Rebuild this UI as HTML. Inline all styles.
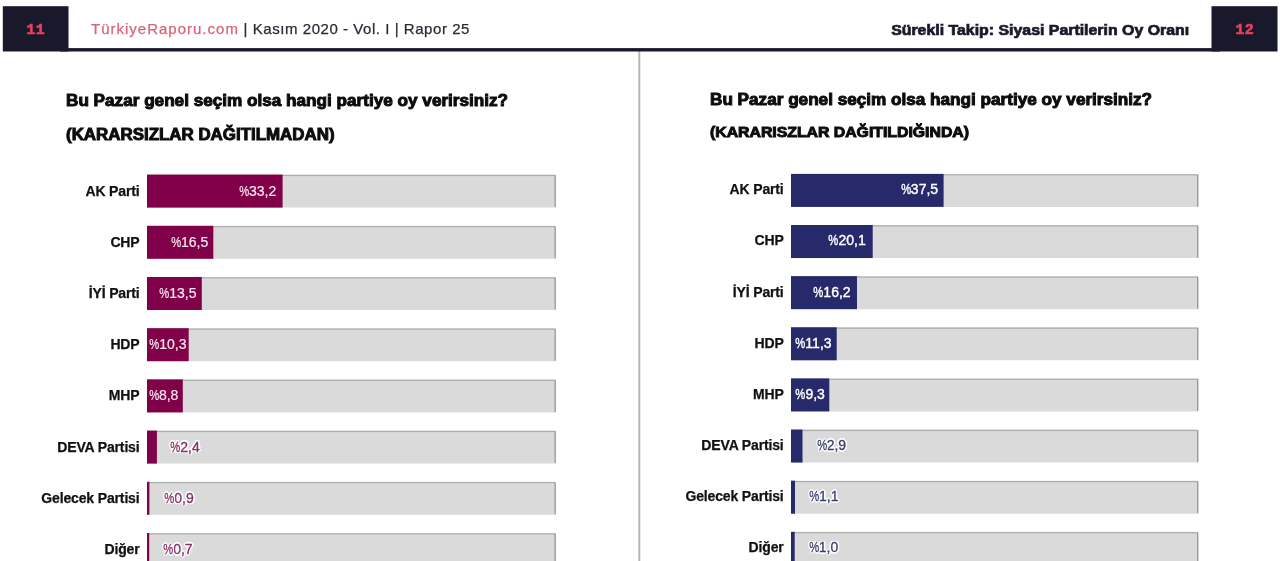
<!DOCTYPE html>
<html><head><meta charset="utf-8">
<style>
*{margin:0;padding:0;box-sizing:border-box}
html,body{width:1280px;height:561px;overflow:hidden;background:#fff;font-family:"Liberation Sans",sans-serif;}
.box{position:absolute;top:6px;height:45px;width:65px;color:#e8405c;font-family:"Liberation Mono",monospace;font-weight:bold;font-size:15px;letter-spacing:0.6px;text-align:center;line-height:45px;padding-top:2px;padding-left:0.6px;-webkit-text-stroke:0.6px #e8405c}
.hdrL{position:absolute;left:91px;top:20px;font-size:15px;letter-spacing:0.55px;line-height:18px;color:#2a2a35;white-space:nowrap;-webkit-text-stroke:0.25px;transform:translateY(0.4px)}
.hdrL span{color:#d9637a;letter-spacing:1px}
.hdrR{position:absolute;right:91px;top:20px;font-size:14.5px;letter-spacing:0;line-height:18px;font-weight:bold;color:#19192b;white-space:nowrap;-webkit-text-stroke:0.7px #19192b;transform-origin:100% 0;transform:translateY(0.5px) scaleX(1.095)}
.t1{position:absolute;font-weight:bold;font-size:16px;letter-spacing:0px;line-height:20px;color:#0c0c0c;white-space:nowrap;-webkit-text-stroke:0.95px #0c0c0c;transform-origin:0 0;transform:scaleX(1.0715)}
.t2{position:absolute;font-weight:bold;font-size:15.8px;letter-spacing:0px;line-height:20px;color:#0c0c0c;white-space:nowrap;-webkit-text-stroke:0.95px #0c0c0c;transform-origin:0 0;transform:scaleX(1.07)}
.t2.sm{font-size:14.5px;letter-spacing:0;transform:scaleX(1.09)}
.bars{position:absolute;left:0;top:0}
.row{position:absolute;left:0;top:0;width:1280px;height:33px}
.lab{position:absolute;left:0;top:0;line-height:33px;height:33px;font-weight:bold;font-size:14px;letter-spacing:-0.15px;color:#111;white-space:nowrap;text-align:right;-webkit-text-stroke:0.25px #111}
.val{position:absolute;top:0;width:60px;text-align:center;line-height:33px;font-size:14px;letter-spacing:0;color:#fff;white-space:nowrap}
.val i{font-style:normal;display:inline-block;transform:scaleX(0.8);margin:0 -1.35px}
.L .val{color:#f7e6ef;-webkit-text-stroke:0.2px #f7e6ef}
.L .val.o{color:#84306a;-webkit-text-stroke:0.3px #84306a;text-shadow:1.6px 0 0 #fff,-1.6px 0 0 #fff,0 1.6px 0 #fff,0 -1.6px 0 #fff,1.2px 1.2px 0 #fff,-1.2px 1.2px 0 #fff,1.2px -1.2px 0 #fff,-1.2px -1.2px 0 #fff,0 0 3px #fff,0 0 3px #fff}
.R .val{-webkit-text-stroke:0.4px #fff}
.R .val.o{color:#3a3e6a;-webkit-text-stroke:0.3px #3a3e6a;text-shadow:1.6px 0 0 #fff,-1.6px 0 0 #fff,0 1.6px 0 #fff,0 -1.6px 0 #fff,1.2px 1.2px 0 #fff,-1.2px 1.2px 0 #fff,1.2px -1.2px 0 #fff,-1.2px -1.2px 0 #fff,0 0 3px #fff,0 0 3px #fff}
#wrap{position:absolute;left:0;top:0;width:1280px;height:620px;filter:blur(0.4px)}

</style></head><body>
<div id="wrap">


<div class="hdrL"><span>TürkiyeRaporu.com</span> | Kasım 2020 - Vol. I | Rapor 25</div>
<div class="hdrR">Sürekli Takip: Siyasi Partilerin Oy Oranı</div>
<div class="t1" id="t1l" style="left:65.7px;top:91.3px">Bu Pazar genel seçim olsa hangi partiye oy verirsiniz?</div>
<div class="t2" id="t2l" style="left:65.7px;top:124.5px">(KARARSIZLAR DAĞITILMADAN)</div>
<div class="t1" id="t1r" style="left:710px;top:89.7px">Bu Pazar genel seçim olsa hangi partiye oy verirsiniz?</div>
<div class="t2 sm" id="t2r" style="left:710px;top:122px">(KARARISZLAR DAĞITILDIĞINDA)</div>
<svg class="bars" width="1280" height="620" viewBox="0 0 1280 620">
<rect x="147.0" y="174.60" width="408.9" height="33.0" rx="1" fill="#dadada"/><rect x="147.0" y="174.90" width="408.4" height="1.2" fill="#adadad"/><rect x="554.5" y="175.40" width="1.3" height="31.8" fill="#9a9a9a"/><rect x="147.0" y="174.60" width="135.6" height="33.0" fill="#80004a"/>
<rect x="147.0" y="225.80" width="408.9" height="33.0" rx="1" fill="#dadada"/><rect x="147.0" y="226.10" width="408.4" height="1.2" fill="#adadad"/><rect x="554.5" y="226.60" width="1.3" height="31.8" fill="#9a9a9a"/><rect x="147.0" y="225.80" width="66.3" height="33.0" fill="#80004a"/>
<rect x="147.0" y="277.00" width="408.9" height="33.0" rx="1" fill="#dadada"/><rect x="147.0" y="277.30" width="408.4" height="1.2" fill="#adadad"/><rect x="554.5" y="277.80" width="1.3" height="31.8" fill="#9a9a9a"/><rect x="147.0" y="277.00" width="54.8" height="33.0" fill="#80004a"/>
<rect x="147.0" y="328.20" width="408.9" height="33.0" rx="1" fill="#dadada"/><rect x="147.0" y="328.50" width="408.4" height="1.2" fill="#adadad"/><rect x="554.5" y="329.00" width="1.3" height="31.8" fill="#9a9a9a"/><rect x="147.0" y="328.20" width="41.7" height="33.0" fill="#80004a"/>
<rect x="147.0" y="379.40" width="408.9" height="33.0" rx="1" fill="#dadada"/><rect x="147.0" y="379.70" width="408.4" height="1.2" fill="#adadad"/><rect x="554.5" y="380.20" width="1.3" height="31.8" fill="#9a9a9a"/><rect x="147.0" y="379.40" width="35.8" height="33.0" fill="#80004a"/>
<rect x="147.0" y="430.60" width="408.9" height="33.0" rx="1" fill="#dadada"/><rect x="147.0" y="430.90" width="408.4" height="1.2" fill="#adadad"/><rect x="554.5" y="431.40" width="1.3" height="31.8" fill="#9a9a9a"/><rect x="147.0" y="430.60" width="9.9" height="33.0" fill="#80004a"/>
<rect x="147.0" y="481.80" width="408.9" height="33.0" rx="1" fill="#dadada"/><rect x="147.0" y="482.10" width="408.4" height="1.2" fill="#adadad"/><rect x="554.5" y="482.60" width="1.3" height="31.8" fill="#9a9a9a"/><rect x="147.0" y="481.80" width="2.4" height="33.0" fill="#80004a"/>
<rect x="147.0" y="533.00" width="408.9" height="33.0" rx="1" fill="#dadada"/><rect x="147.0" y="533.30" width="408.4" height="1.2" fill="#adadad"/><rect x="554.5" y="533.80" width="1.3" height="31.8" fill="#9a9a9a"/><rect x="147.0" y="533.00" width="2.2" height="33.0" fill="#80004a"/>
<rect x="791.0" y="173.90" width="407.4" height="33.0" rx="1" fill="#dadada"/><rect x="791.0" y="174.20" width="406.9" height="1.2" fill="#adadad"/><rect x="1197.0" y="174.70" width="1.3" height="31.8" fill="#9a9a9a"/><rect x="791.0" y="173.90" width="152.6" height="33.0" fill="#262a6b"/>
<rect x="791.0" y="225.03" width="407.4" height="33.0" rx="1" fill="#dadada"/><rect x="791.0" y="225.33" width="406.9" height="1.2" fill="#adadad"/><rect x="1197.0" y="225.83" width="1.3" height="31.8" fill="#9a9a9a"/><rect x="791.0" y="225.03" width="81.7" height="33.0" fill="#262a6b"/>
<rect x="791.0" y="276.16" width="407.4" height="33.0" rx="1" fill="#dadada"/><rect x="791.0" y="276.46" width="406.9" height="1.2" fill="#adadad"/><rect x="1197.0" y="276.96" width="1.3" height="31.8" fill="#9a9a9a"/><rect x="791.0" y="276.16" width="66.0" height="33.0" fill="#262a6b"/>
<rect x="791.0" y="327.29" width="407.4" height="33.0" rx="1" fill="#dadada"/><rect x="791.0" y="327.59" width="406.9" height="1.2" fill="#adadad"/><rect x="1197.0" y="328.09" width="1.3" height="31.8" fill="#9a9a9a"/><rect x="791.0" y="327.29" width="45.7" height="33.0" fill="#262a6b"/>
<rect x="791.0" y="378.42" width="407.4" height="33.0" rx="1" fill="#dadada"/><rect x="791.0" y="378.72" width="406.9" height="1.2" fill="#adadad"/><rect x="1197.0" y="379.22" width="1.3" height="31.8" fill="#9a9a9a"/><rect x="791.0" y="378.42" width="38.3" height="33.0" fill="#262a6b"/>
<rect x="791.0" y="429.55" width="407.4" height="33.0" rx="1" fill="#dadada"/><rect x="791.0" y="429.85" width="406.9" height="1.2" fill="#adadad"/><rect x="1197.0" y="430.35" width="1.3" height="31.8" fill="#9a9a9a"/><rect x="791.0" y="429.55" width="11.5" height="33.0" fill="#262a6b"/>
<rect x="791.0" y="480.68" width="407.4" height="33.0" rx="1" fill="#dadada"/><rect x="791.0" y="480.98" width="406.9" height="1.2" fill="#adadad"/><rect x="1197.0" y="481.48" width="1.3" height="31.8" fill="#9a9a9a"/><rect x="791.0" y="480.68" width="4.0" height="33.0" fill="#262a6b"/>
<rect x="791.0" y="531.81" width="407.4" height="33.0" rx="1" fill="#dadada"/><rect x="791.0" y="532.11" width="406.9" height="1.2" fill="#adadad"/><rect x="1197.0" y="532.61" width="1.3" height="31.8" fill="#9a9a9a"/><rect x="791.0" y="531.81" width="3.7" height="33.0" fill="#262a6b"/>
<rect x="2.8" y="6.2" width="65.7" height="45.3" fill="#19192b"/><rect x="1211.5" y="6.2" width="66" height="45.3" fill="#19192b"/><rect x="638.3" y="51" width="2" height="569" fill="#b6b6b6"/><rect x="60" y="48.1" width="1160" height="3.4" fill="#19192b"/>
</svg>
<div class="box" style="left:3px">11</div>
<div class="box" style="left:1212px">12</div>
<div class="row L" style="transform:translateY(174.60px)"><div class="lab" style="width:139.5px">AK Parti</div><div class="val" style="left:227.8px"><i>%</i>33,2</div></div>
<div class="row L" style="transform:translateY(225.80px)"><div class="lab" style="width:139.5px">CHP</div><div class="val" style="left:159.8px"><i>%</i>16,5</div></div>
<div class="row L" style="transform:translateY(277.00px)"><div class="lab" style="width:139.5px">İYİ Parti</div><div class="val" style="left:148.0px"><i>%</i>13,5</div></div>
<div class="row L" style="transform:translateY(328.20px)"><div class="lab" style="width:139.5px">HDP</div><div class="val" style="left:138.0px"><i>%</i>10,3</div></div>
<div class="row L" style="transform:translateY(379.40px)"><div class="lab" style="width:139.5px">MHP</div><div class="val" style="left:133.8px"><i>%</i>8,8</div></div>
<div class="row L" style="transform:translateY(430.60px)"><div class="lab" style="width:139.5px">DEVA Partisi</div><div class="val o" style="left:155.2px"><i>%</i>2,4</div></div>
<div class="row L" style="transform:translateY(481.80px)"><div class="lab" style="width:139.5px">Gelecek Partisi</div><div class="val o" style="left:149.2px"><i>%</i>0,9</div></div>
<div class="row L" style="transform:translateY(533.00px)"><div class="lab" style="width:139.5px">Diğer</div><div class="val o" style="left:148.0px"><i>%</i>0,7</div></div>
<div class="row R" style="transform:translateY(173.30px)"><div class="lab" style="width:783.6px">AK Parti</div><div class="val" style="left:889.6px"><i>%</i>37,5</div></div>
<div class="row R" style="transform:translateY(224.43px)"><div class="lab" style="width:783.6px">CHP</div><div class="val" style="left:817.2px"><i>%</i>20,1</div></div>
<div class="row R" style="transform:translateY(275.56px)"><div class="lab" style="width:783.6px">İYİ Parti</div><div class="val" style="left:802.1px"><i>%</i>16,2</div></div>
<div class="row R" style="transform:translateY(326.69px)"><div class="lab" style="width:783.6px">HDP</div><div class="val" style="left:783.6px"><i>%</i>11,3</div></div>
<div class="row R" style="transform:translateY(377.82px)"><div class="lab" style="width:783.6px">MHP</div><div class="val" style="left:780.3px"><i>%</i>9,3</div></div>
<div class="row R" style="transform:translateY(428.95px)"><div class="lab" style="width:783.6px">DEVA Partisi</div><div class="val o" style="left:801.5px"><i>%</i>2,9</div></div>
<div class="row R" style="transform:translateY(480.08px)"><div class="lab" style="width:783.6px">Gelecek Partisi</div><div class="val o" style="left:793.9px"><i>%</i>1,1</div></div>
<div class="row R" style="transform:translateY(531.21px)"><div class="lab" style="width:783.6px">Diğer</div><div class="val o" style="left:793.7px"><i>%</i>1,0</div></div>
</div>
</body></html>
